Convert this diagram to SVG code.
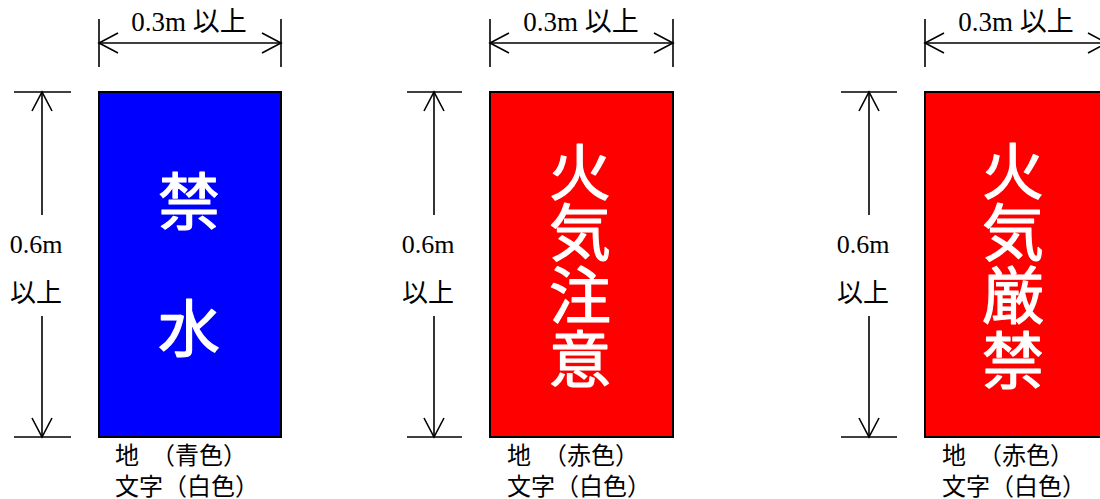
<svg xmlns="http://www.w3.org/2000/svg" width="1100" height="499" viewBox="0 0 1100 499">
<style>
.bg{fill:#fff}
.sign{stroke:#000;stroke-width:2}
.blue{fill:#0000ff}
.red{fill:#ff0000}
.dim{stroke:#000;stroke-width:1.6;fill:none}
.lbl{font-family:"Liberation Serif","Noto Sans CJK JP",serif;font-size:26px;fill:#000;text-anchor:middle}
.top{font-size:27px}
.cap{font-family:"Liberation Serif","Noto Sans CJK JP",serif;font-size:24px;fill:#000}
.big{font-family:"Noto Sans CJK JP",sans-serif;font-size:62px;fill:#fff;stroke:#fff;stroke-width:1.2;stroke-linejoin:round;text-anchor:middle}
</style>
<defs>
<marker id="arr" viewBox="-21 -12 24 24" refX="0" refY="0" markerWidth="24" markerHeight="24" markerUnits="userSpaceOnUse" orient="auto-start-reverse">
<path d="M-19,-10 L0,0 L-19,10" fill="none" stroke="#000" stroke-width="1.6"/>
</marker>
</defs>
<rect class="bg" x="0" y="0" width="1100" height="499"/>

<g id="connectors">
<!-- sign 1 -->
<line class="dim" x1="99" y1="19" x2="99" y2="67"/>
<line class="dim" x1="281" y1="19" x2="281" y2="67"/>
<line class="dim" x1="99" y1="43" x2="281" y2="43" marker-start="url(#arr)" marker-end="url(#arr)"/>
<line class="dim" x1="14" y1="92" x2="71" y2="92"/>
<line class="dim" x1="14" y1="437" x2="71" y2="437"/>
<line class="dim" x1="42" y1="92" x2="42" y2="215" marker-start="url(#arr)"/>
<line class="dim" x1="42" y1="316" x2="42" y2="437" marker-end="url(#arr)"/>
<!-- sign 2 -->
<line class="dim" x1="490" y1="19" x2="490" y2="67"/>
<line class="dim" x1="673" y1="19" x2="673" y2="67"/>
<line class="dim" x1="490" y1="43" x2="673" y2="43" marker-start="url(#arr)" marker-end="url(#arr)"/>
<line class="dim" x1="407" y1="92" x2="462" y2="92"/>
<line class="dim" x1="407" y1="437" x2="462" y2="437"/>
<line class="dim" x1="434" y1="92" x2="434" y2="215" marker-start="url(#arr)"/>
<line class="dim" x1="434" y1="316" x2="434" y2="437" marker-end="url(#arr)"/>
<!-- sign 3 -->
<line class="dim" x1="925" y1="19" x2="925" y2="67"/>
<line class="dim" x1="925" y1="43" x2="1107" y2="43" marker-start="url(#arr)" marker-end="url(#arr)"/>
<line class="dim" x1="841" y1="92" x2="897" y2="92"/>
<line class="dim" x1="841" y1="437" x2="897" y2="437"/>
<line class="dim" x1="869" y1="92" x2="869" y2="215" marker-start="url(#arr)"/>
<line class="dim" x1="869" y1="316" x2="869" y2="437" marker-end="url(#arr)"/>
</g>

<g id="sign-kinsui">
<rect class="sign blue" x="99" y="92" width="182" height="345"/>
<text class="big" x="189"><tspan x="189" y="225">禁</tspan><tspan x="189" y="352">水</tspan></text>
<text class="lbl top" x="189" y="31">0.3m 以上</text>
<text class="lbl" x="36" y="253">0.6m</text>
<text class="lbl" x="36" y="302">以上</text>
<text class="cap" x="115" y="464">地　（青色）</text>
<text class="cap" x="115" y="495">文字（白色）</text>
</g>

<g id="sign-kakichui">
<rect class="sign red" x="490" y="92" width="183" height="345"/>
<text class="big" x="580"><tspan x="580" y="196">火</tspan><tspan x="580" y="256">気</tspan><tspan x="580" y="319">注</tspan><tspan x="580" y="383">意</tspan></text>
<text class="lbl top" x="581" y="31">0.3m 以上</text>
<text class="lbl" x="428" y="253">0.6m</text>
<text class="lbl" x="428" y="302">以上</text>
<text class="cap" x="507" y="464">地　（赤色）</text>
<text class="cap" x="507" y="495">文字（白色）</text>
</g>

<g id="sign-kakigenkin">
<rect class="sign red" x="925" y="92" width="182" height="345"/>
<text class="big" x="1013"><tspan x="1013" y="195">火</tspan><tspan x="1013" y="256">気</tspan><tspan x="1013" y="319">厳</tspan><tspan x="1013" y="384">禁</tspan></text>
<text class="lbl top" x="1016" y="31">0.3m 以上</text>
<text class="lbl" x="863" y="253">0.6m</text>
<text class="lbl" x="863" y="302">以上</text>
<text class="cap" x="942" y="464">地　（赤色）</text>
<text class="cap" x="942" y="495">文字（白色）</text>
</g>
</svg>
